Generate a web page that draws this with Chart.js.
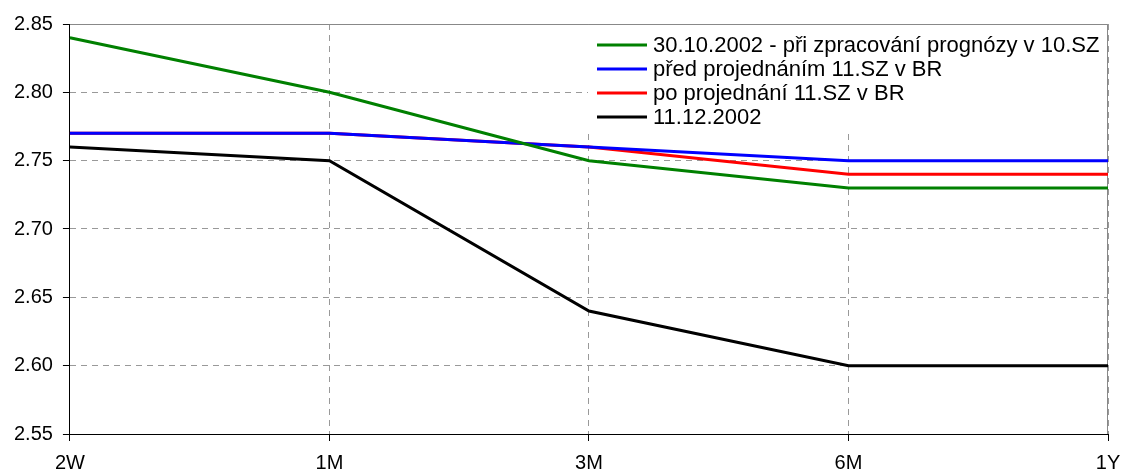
<!DOCTYPE html>
<html>
<head>
<meta charset="utf-8">
<script src="https://cdn.jsdelivr.net/npm/chart.js@4.4.1/dist/chart.umd.min.js"></script>
<style>
  html, body { margin: 0; padding: 0; background: #fff; }
  #wrap { width: 1124px; height: 474px; }
</style>
</head>
<body>
<div id="wrap"><canvas id="c"></canvas></div>
<script>
const categories = ['2W', '1M', '3M', '6M', '1Y'];
const green = [2.84, 2.80, 2.75, 2.73, 2.73];
const blue = [2.77, 2.77, 2.76, 2.75, 2.75];
const red = [2.77, 2.77, 2.76, 2.74, 2.74];
const black = [2.76, 2.75, 2.64, 2.60, 2.60];
const seriesNames = [
  '30.10.2002 - při zpracování prognózy v 10.SZ',
  'před projednáním 11.SZ v BR',
  'po projednání 11.SZ v BR',
  '11.12.2002'
];

const FONT = '"Liberation Sans", Arial, sans-serif';

// white legend box inside the plot, top right, plus grey frame on top/right
const boxLegend = {
  id: 'boxLegend',
  beforeDatasetsDraw(chart) {
    const { ctx, chartArea: a } = chart;
    ctx.save();
    ctx.strokeStyle = '#888';
    ctx.lineWidth = 1;
    ctx.beginPath();
    ctx.moveTo(a.left, a.top + 0.5);
    ctx.lineTo(a.right - 0.5, a.top + 0.5);
    ctx.lineTo(a.right - 0.5, a.bottom);
    ctx.stroke();
    const x0 = a.right - 520;
    ctx.fillStyle = '#fff';
    ctx.fillRect(x0, a.top + 1, 519, 106);
    ctx.font = '22px ' + FONT;
    ctx.textBaseline = 'middle';
    chart.data.datasets.forEach((ds, i) => {
      const y = a.top + 21 + i * 24;
      ctx.strokeStyle = ds.borderColor;
      ctx.lineWidth = 3;
      ctx.beginPath();
      ctx.moveTo(x0 + 9, y);
      ctx.lineTo(x0 + 59, y);
      ctx.stroke();
      ctx.fillStyle = '#000';
      ctx.fillText(ds.label, x0 + 65, y + 1);
    });
    ctx.restore();
  }
};

const mk = (label, data, color) => ({
  label, data,
  borderColor: color,
  backgroundColor: color,
  borderWidth: 3,
  pointRadius: 0,
  tension: 0,
  fill: false
});

new Chart(document.getElementById('c'), {
  type: 'line',
  data: {
    labels: categories,
    datasets: [
      mk(seriesNames[0], green, '#008000'),
      mk(seriesNames[1], blue, '#0000ff'),
      mk(seriesNames[2], red, '#ff0000'),
      mk(seriesNames[3], black, '#000000')
    ]
  },
  options: {
    responsive: true,
    maintainAspectRatio: false,
    animation: false,
    layout: { padding: { left: 4, right: 0, top: 0, bottom: -11 } },
    plugins: { legend: { display: false }, tooltip: { enabled: false } },
    scales: {
      x: {
        offset: false,
        grid: { offset: false, color: '#999', tickColor: '#000', tickLength: 7, drawOnChartArea: true },
        border: { color: '#000', width: 1, dash: [6, 5] },
        ticks: { color: '#000', font: { family: FONT, size: 20 }, padding: 10, maxRotation: 0 },
        afterFit(scale) { scale.paddingRight = 16; }
      },
      y: {
        min: 2.55, max: 2.85,
        grid: { color: '#999', tickColor: '#000', tickLength: 7 },
        border: { color: '#000', width: 1, dash: [6, 5] },
        ticks: {
          stepSize: 0.05, color: '#000', padding: 10,
          font: { family: FONT, size: 20 },
          callback: v => v.toFixed(2)
        },
        afterFit(scale) { scale.paddingTop = 24; }
      }
    }
  },
  plugins: [boxLegend]
});
</script>
</body>
</html>
